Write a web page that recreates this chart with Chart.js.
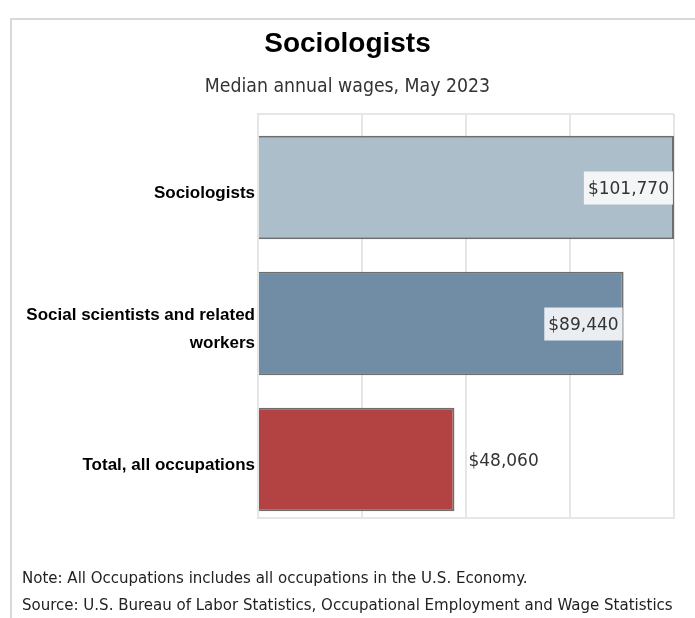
<!DOCTYPE html>
<html>
<head>
<meta charset="utf-8">
<script src="https://cdn.jsdelivr.net/npm/chart.js@4"></script>
<style>
  html, body { margin: 0; padding: 0; background: #fff; width: 695px; height: 618px; overflow: hidden; }
  #frame { position: absolute; left: 10px; top: 18px; width: 700px; height: 620px;
           border-left: 2px solid #d9d9d9; border-top: 2px solid #d9d9d9; box-sizing: border-box; }
  #wrap { position: absolute; left: 0; top: 0; width: 695px; height: 618px; }
  .note { position: absolute; left: 22px; font-family: 'DejaVu Sans Condensed', 'DejaVu Sans', sans-serif;
          font-size: 16.7px; line-height: 20px; color: #222; white-space: nowrap; }
</style>
</head>
<body>
<div id="frame"></div>
<div id="wrap"><canvas id="c" width="695" height="618"></canvas></div>
<div class="note" style="top:567px">Note: All Occupations includes all occupations in the U.S. Economy.</div>
<div class="note" style="top:594px">Source: U.S. Bureau of Labor Statistics, Occupational Employment and Wage Statistics</div>
<script>
const titleText = "Sociologists";
const subtitleText = "Median annual wages, May 2023";
const categories = [["Sociologists"], ["Social scientists and related", "workers"], ["Total, all occupations"]];
const wages = [101770, 89440, 48060];
const barColors = ["#adbecb", "#708da5", "#b34242"];
const valueLabels = ["$101,770", "$89,440", "$48,060"];

const points = wages.map((v, i) => ({ x: v, y: i }));
const xMax = Math.max(...wages);

const gridColor = "#e6e6e6";

const framePlugin = {
  id: "framePlugin",
  beforeDatasetsDraw(chart) {
    const { ctx, chartArea } = chart;
    ctx.save();
    ctx.strokeStyle = gridColor;
    ctx.lineWidth = 2;
    ctx.beginPath();
    ctx.moveTo(chartArea.left, chartArea.top);
    ctx.lineTo(chartArea.right, chartArea.top);
    ctx.stroke();
    ctx.restore();
  }
};

const labelPlugin = {
  id: "labelPlugin",
  afterDatasetsDraw(chart) {
    const { ctx } = chart;
    const meta = chart.getDatasetMeta(0);
    ctx.save();
    ctx.font = "17px 'DejaVu Sans', sans-serif";
    ctx.textBaseline = "middle";
    meta.data.forEach((bar, i) => {
      const text = valueLabels[i];
      const w = ctx.measureText(text).width;
      const yc = bar.y + 2;
      if (wages[i] > xMax * 0.6) {
        const boxR = bar.x - 1;
        const boxL = boxR - w - 8;
        ctx.fillStyle = "rgba(255,255,255,0.85)";
        ctx.fillRect(boxL, bar.y - 16, w + 8, 33);
        ctx.fillStyle = "#333";
        ctx.textAlign = "left";
        ctx.fillText(text, boxL + 4, yc);
      } else {
        ctx.fillStyle = "#333";
        ctx.textAlign = "left";
        ctx.fillText(text, bar.x + 14, yc);
      }
    });
    ctx.restore();
  }
};

new Chart(document.getElementById("c"), {
  type: "bar",
  data: {
    datasets: [{
      data: points,
      backgroundColor: barColors,
      borderColor: "#6e6e6e",
      borderWidth: 2,
      barPercentage: 0.76,
      categoryPercentage: 1
    }]
  },
  options: {
    indexAxis: "y",
    responsive: false,
    animation: false,
    devicePixelRatio: 1,
    layout: { padding: { left: 21, right: 21, top: 0, bottom: 100 } },
    plugins: {
      legend: { display: false },
      tooltip: { enabled: false },
      title: {
        display: true, text: titleText, color: "#000",
        font: { family: "'Liberation Sans', Arial, sans-serif", size: 28, weight: "bold", lineHeight: 1.2 },
        padding: { top: 27, bottom: 15 }
      },
      subtitle: {
        display: true, text: subtitleText, color: "#333",
        font: { family: "'DejaVu Sans Condensed', 'DejaVu Sans', sans-serif", size: 19.3, lineHeight: 1.2 },
        padding: { top: 0, bottom: 15.3 }
      }
    },
    scales: {
      x: {
        type: "linear", position: "bottom", min: 0, max: xMax, bounds: "data",
        ticks: { display: false, stepSize: xMax / 4 },
        grid: { color: gridColor, lineWidth: 2, drawTicks: false },
        border: { display: true, color: gridColor, width: 2 }
      },
      y: {
        type: "linear", reverse: true, min: -0.54, max: 2.43, bounds: "data", offset: false,
        afterBuildTicks(scale) { scale.ticks = categories.map((c, i) => ({ value: i })); },
        afterFit(scale) { scale.width = 237; },
        ticks: {
          autoSkip: false, padding: 3, labelOffset: 6,
          color: "#000",
          font: { family: "'Liberation Sans', Arial, sans-serif", size: 17, weight: "bold", lineHeight: 1.65 },
          callback: (v) => (Number.isInteger(v) && categories[v]) ? categories[v] : ""
        },
        grid: { display: false, drawTicks: false, offset: false },
        border: { display: true, color: gridColor, width: 2 }
      }
    }
  },
  plugins: [framePlugin, labelPlugin]
});
</script>
</body>
</html>
